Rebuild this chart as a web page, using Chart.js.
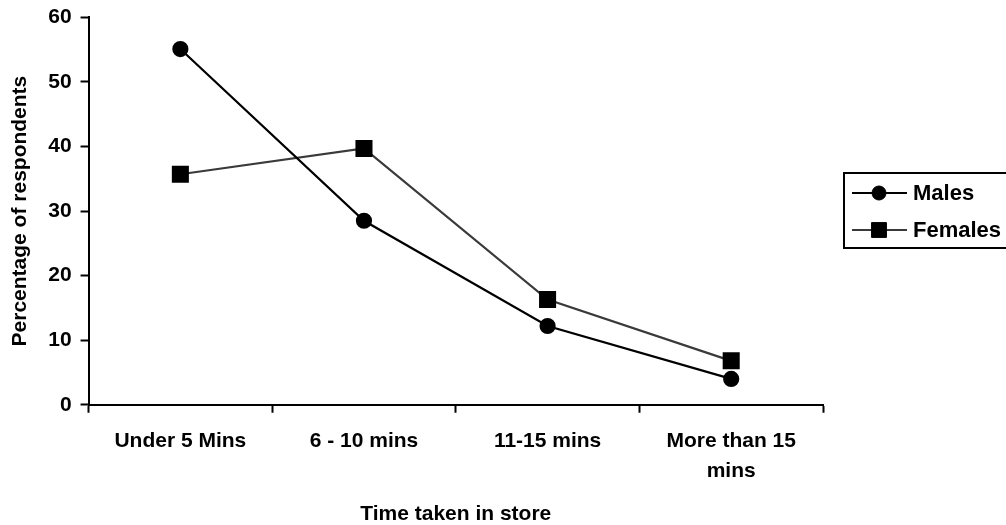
<!DOCTYPE html>
<html>
<head>
<meta charset="utf-8">
<script src="https://cdn.jsdelivr.net/npm/chart.js@4.4.0/dist/chart.umd.min.js"></script>
<style>
  html, body { margin: 0; padding: 0; background: #ffffff; }
  #wrap { width: 1006px; height: 525px; position: relative; }
</style>
</head>
<body>
<div id="wrap"><canvas id="c" width="1006" height="525"></canvas></div>
<script>
const categories = ['Under 5 Mins', '6 - 10 mins', '11-15 mins', ['More than 15', 'mins']];
const males = [55.1, 28.5, 12.2, 4.0];
const females = [35.7, 39.7, 16.3, 6.8];
const yTicks = [0, 10, 20, 30, 40, 50, 60];
const xTitle = 'Time taken in store';
const yTitle = 'Percentage of respondents';

const FONT = '"Liberation Sans", Arial, sans-serif';

const boxLegend = {
  id: 'boxLegend',
  afterDraw(chart) {
    const ctx = chart.ctx;
    const left = 844, top = 173, bottom = 248;
    ctx.save();
    ctx.strokeStyle = '#000';
    ctx.lineWidth = 2;
    ctx.strokeRect(left, top, 1010 - left, bottom - top);
    const rows = [193, 230];
    chart.data.datasets.forEach((ds, i) => {
      const y = rows[i];
      ctx.strokeStyle = ds.borderColor;
      ctx.lineWidth = ds.borderWidth;
      ctx.beginPath();
      ctx.moveTo(852, y);
      ctx.lineTo(907, y);
      ctx.stroke();
      ctx.fillStyle = ds.pointBackgroundColor;
      ctx.strokeStyle = ds.pointBorderColor;
      ctx.lineWidth = 1;
      Chart.helpers.drawPoint(ctx, { pointStyle: ds.pointStyle, radius: ds.pointRadius, rotation: 0, borderWidth: 1 }, 879, y);
      ctx.fillStyle = '#000';
      ctx.font = 'bold 22px ' + FONT;
      ctx.textAlign = 'left';
      ctx.textBaseline = 'middle';
      ctx.fillText(ds.label, 913, y + 1);
    });
    ctx.restore();
  }
};

new Chart(document.getElementById('c'), {
  type: 'line',
  data: {
    labels: categories,
    datasets: [
      {
        label: 'Males',
        data: males,
        borderColor: '#000000',
        backgroundColor: '#000000',
        borderWidth: 2.2,
        pointStyle: 'circle',
        pointRadius: 7,
        pointBackgroundColor: '#000000',
        pointBorderColor: '#000000',
        tension: 0,
        fill: false
      },
      {
        label: 'Females',
        data: females,
        borderColor: '#3a3a3a',
        backgroundColor: '#000000',
        borderWidth: 2.2,
        pointStyle: 'rect',
        pointRadius: 10.5,
        pointBackgroundColor: '#000000',
        pointBorderColor: '#000000',
        tension: 0,
        fill: false
      }
    ]
  },
  options: {
    responsive: false,
    animation: false,
    devicePixelRatio: 1,
    layout: { padding: { left: 2, right: 183, top: 17, bottom: 0 } },
    plugins: {
      legend: { display: false },
      tooltip: { enabled: false }
    },
    scales: {
      x: {
        type: 'category',
        offset: true,
        grid: {
          offset: true,
          drawOnChartArea: false,
          drawTicks: true,
          tickLength: 8,
          tickColor: '#000',
          tickWidth: 2
        },
        border: { display: true, color: '#000', width: 2 },
        ticks: {
          color: '#000',
          font: { family: FONT, size: 21, weight: 'bold', lineHeight: 1.43 },
          padding: 13,
          maxRotation: 0,
          minRotation: 0,
          autoSkip: false
        },
        title: {
          display: true,
          text: xTitle,
          color: '#000',
          font: { family: FONT, size: 21, weight: 'bold' },
          padding: { top: 3, bottom: -2 }
        }
      },
      y: {
        min: 0,
        max: 60,
        afterBuildTicks(scale) { scale.ticks = yTicks.map(v => ({ value: v })); },
        grid: {
          drawOnChartArea: false,
          drawTicks: true,
          tickLength: 8,
          tickColor: '#000',
          tickWidth: 2
        },
        border: { display: true, color: '#000', width: 2 },
        ticks: {
          color: '#000',
          font: { family: FONT, size: 21, weight: 'bold', lineHeight: 0.8 },
          padding: 9
        },
        title: {
          display: true,
          text: yTitle,
          color: '#000',
          font: { family: FONT, size: 21, weight: 'bold' },
          padding: { top: 6, bottom: 6 }
        }
      }
    }
  },
  plugins: [boxLegend]
});
</script>
</body>
</html>
